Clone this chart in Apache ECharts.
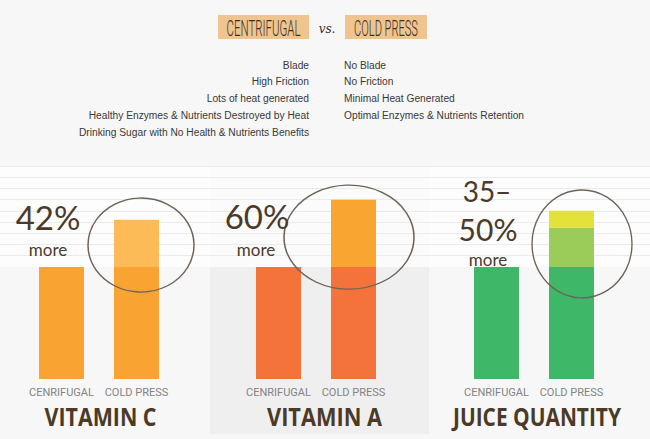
<!DOCTYPE html>
<html>
<head>
<meta charset="utf-8">
<script src="https://cdn.jsdelivr.net/npm/echarts@6/dist/echarts.min.js"></script>
<style>html,body{margin:0;padding:0;background:#f7f7f7;}#c{width:650px;height:439px;}</style>
</head>
<body>
<div id="c"></div>
<script>
// ---- data ----
const categories = ['CENRIFUGAL', 'COLD PRESS'];
const panelTitles = ['VITAMIN C', 'VITAMIN A', 'JUICE QUANTITY'];
const vitaminC_base = [100, 100];
const vitaminC_extra = [null, 42];
const vitaminA_base = [100, 100];
const vitaminA_extra = [null, 60];
const juice_base = [100, 100];
const juice_extra35 = [null, 35];
const juice_extra50 = [null, 15];
const annotations = [['42%', 'more'], ['60%', 'more'], ['35\u2013', '50%', 'more']];
const headerLeft = 'CENTRIFUGAL';
const headerRight = 'COLD PRESS';
const centrifugalTraits = ['Blade', 'High Friction', 'Lots of heat generated', 'Healthy Enzymes & Nutrients Destroyed by Heat', 'Drinking Sugar with No Health & Nutrients Benefits'];
const coldPressTraits = ['No Blade', 'No Friction', 'Minimal Heat Generated', 'Optimal Enzymes & Nutrients Retention'];
const yTicks = [0, 190, 10];

// ---- helpers ----
const mctx = document.createElement('canvas').getContext('2d');
function fitScale(text, font, target) { mctx.font = font; return target / mctx.measureText(text).width; }

// ---- layout ----
const chart = echarts.init(document.getElementById('c'), null, {renderer: 'svg'});
const TOP = 166, BOTTOM = 60;
const gridLefts = [24, 241, 459];
const brown = '#4b3a28';

const grids = gridLefts.map(l => ({left: l, width: 150, top: TOP, bottom: BOTTOM}));
grids.push({left: 0, right: 0, top: TOP, bottom: BOTTOM});

const xAxes = gridLefts.map((l, i) => ({
  type: 'category', gridIndex: i, data: categories,
  axisLine: {show: false}, axisTick: {show: false},
  axisLabel: {color: '#838383', fontFamily: 'Roboto', fontSize: 11, margin: 8, interval: 0}
}));
xAxes.push({type: 'value', gridIndex: 3, show: false, min: 0, max: 1});

const lineColors = [];
for (let v = yTicks[0]; v <= yTicks[1]; v += yTicks[2]) lineColors.push(v > 100 ? '#ebebeb' : 'rgba(0,0,0,0)');
const areaColors = [];
for (let v = yTicks[0]; v < yTicks[1]; v += yTicks[2]) areaColors.push(v >= 100 ? 'rgba(255,255,255,0.75)' : 'rgba(0,0,0,0)');

const yAxes = [0, 1, 2].map(i => ({type: 'value', gridIndex: i, min: yTicks[0], max: yTicks[1], interval: yTicks[2], show: false}));
yAxes.push({
  type: 'value', gridIndex: 3, min: yTicks[0], max: yTicks[1], interval: yTicks[2],
  axisLine: {show: false}, axisTick: {show: false}, axisLabel: {show: false},
  splitLine: {show: true, lineStyle: {color: lineColors, width: 1}},
  splitArea: {show: true, areaStyle: {color: areaColors}}
});

const circle = (val, size, off) => ({
  symbol: 'circle', symbolSize: size, symbolOffset: off, silent: true,
  itemStyle: {color: 'rgba(0,0,0,0)', borderColor: '#6f6357', borderWidth: 1.4},
  label: {show: false},
  data: [{coord: ['COLD PRESS', val]}]
});

const bar = (i, data, color, mp) => {
  const s = {type: 'bar', xAxisIndex: i, yAxisIndex: i, stack: 's' + i, data: data, barWidth: 45, itemStyle: {color: color}, silent: true, animation: false};
  if (mp) s.markPoint = mp;
  return s;
};

const series = [
  bar(0, vitaminC_base, '#f9a432'),
  bar(0, vitaminC_extra, '#fcbb56', circle(119.5, [106, 94], [4.5, 0])),
  bar(1, vitaminA_base, '#f3733a'),
  bar(1, vitaminA_extra, '#f9a532', circle(126.5, [130, 104], [-4.5, 0])),
  bar(2, juice_base, '#3eb868'),
  bar(2, juice_extra35, '#9bcc59'),
  bar(2, juice_extra50, '#e3e23b', circle(120.5, [100, 108], [10.5, 0]))
];

const headFont = '300 22px Roboto';
const titleFont = 'bold 25px "Open Sans"';
const titleCenters = [100.5, 324.5, 537];
const titleWidths = [112, 115, 168];
const hand = {fontFamily: 'Lato', fontWeight: 400, fill: '#4a3a2a'};
const big = (t, x, y, fs) => ({type: 'text', z: 20, x: x, y: y, style: Object.assign({text: t, fontSize: fs, lineHeight: Math.round(fs * 0.82), align: 'center', verticalAlign: 'middle'}, hand)});

const graphic = [
  {type: 'rect', z: -10, shape: {x: 210, y: 166, width: 219, height: 268}, style: {fill: '#f0eff0'}},
  // header
  {type: 'rect', z: 10, shape: {x: 218, y: 15, width: 91, height: 24}, style: {fill: '#f0c48e'}},
  {type: 'rect', z: 10, shape: {x: 345, y: 15, width: 82, height: 24}, style: {fill: '#f0c48e'}},
  {type: 'text', z: 11, x: 263.5, y: 28, scaleX: fitScale(headerLeft, headFont, 74), style: {text: headerLeft, fontFamily: 'Roboto', fontWeight: 300, fontSize: 22, fill: '#3a3028', align: 'center', verticalAlign: 'middle'}},
  {type: 'text', z: 11, x: 386, y: 28, scaleX: fitScale(headerRight, headFont, 64), style: {text: headerRight, fontFamily: 'Roboto', fontWeight: 300, fontSize: 22, fill: '#3a3028', align: 'center', verticalAlign: 'middle'}},
  {type: 'text', z: 11, x: 327, y: 29, style: {text: 'vs.', fontFamily: 'DejaVu Serif', fontStyle: 'italic', fontSize: 12, fill: '#333', align: 'center', verticalAlign: 'middle'}},
  {type: 'text', z: 11, x: 309, y: 56, scaleX: 0.93, style: {text: centrifugalTraits.join('\n'), fontFamily: 'Liberation Sans', fontSize: 11, lineHeight: 16.75, fill: '#383838', align: 'right', verticalAlign: 'top'}},
  {type: 'text', z: 11, x: 344, y: 56, scaleX: 0.93, style: {text: coldPressTraits.join('\n'), fontFamily: 'Liberation Sans', fontSize: 11, lineHeight: 16.75, fill: '#383838', align: 'left', verticalAlign: 'top'}},
  // annotations
  big(annotations[0][0], 48, 217, 33),
  big(annotations[0][1], 48, 249, 17),
  big(annotations[1][0], 257, 216, 33),
  big(annotations[1][1], 256, 249, 17),
  big(annotations[2][0], 487, 191, 28),
  big(annotations[2][1], 488, 228.5, 30),
  big(annotations[2][2], 488, 259, 17)
];
panelTitles.forEach((t, i) => {
  graphic.push({type: 'text', z: 20, x: titleCenters[i], y: 416, scaleX: fitScale(t, titleFont, titleWidths[i]),
    style: {text: t, fontFamily: 'Open Sans', fontWeight: 'bold', fontSize: 25, fill: brown, align: 'center', verticalAlign: 'middle'}});
});

chart.setOption({
  backgroundColor: '#f7f7f7',
  animation: false,
  grid: grids,
  xAxis: xAxes,
  yAxis: yAxes,
  series: series,
  graphic: graphic
});
</script>
</body>
</html>
